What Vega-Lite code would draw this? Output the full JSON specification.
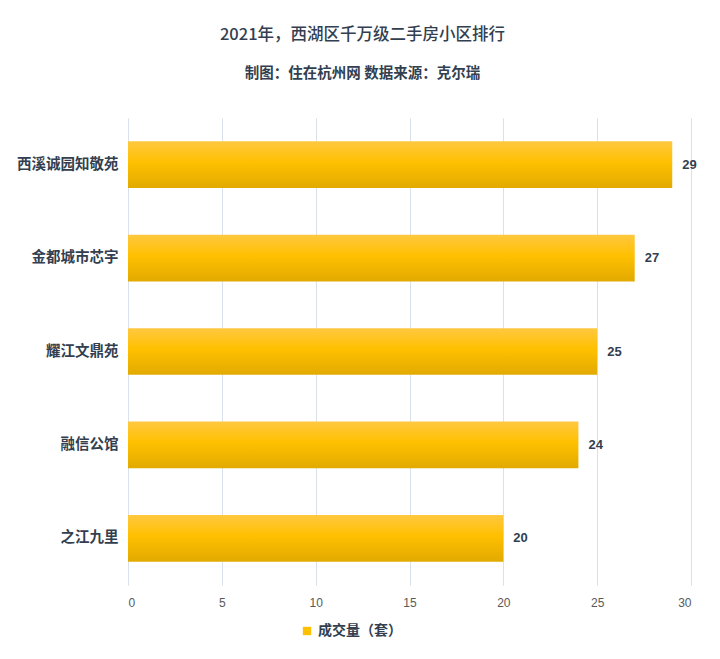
{
  "$schema": "https://vega.github.io/schema/vega-lite/v6.json",
  "width": 563,
  "height": 467,
  "autosize": {"type": "none"},
  "padding": {"left": 128, "top": 118, "right": 29, "bottom": 74},
  "background": "white",
  "title": {
    "text": "2021年，西湖区千万级二手房小区排行",
    "subtitle": "制图：住在杭州网 数据来源：克尔瑞",
    "anchor": "middle",
    "dx": -47,
    "offset": 38,
    "font": "Noto Sans CJK SC",
    "fontSize": 16.5,
    "fontWeight": 500,
    "color": "#333F50",
    "subtitleFont": "Noto Sans CJK SC",
    "subtitleFontSize": 14.5,
    "subtitleFontWeight": "bold",
    "subtitleColor": "#333F50",
    "subtitlePadding": 23
  },
  "data": {
    "values": [
      {"name": "西溪诚园知敬苑", "value": 29},
      {"name": "金都城市芯宇", "value": 27},
      {"name": "耀江文鼎苑", "value": 25},
      {"name": "融信公馆", "value": 24},
      {"name": "之江九里", "value": 20}
    ]
  },
  "encoding": {
    "y": {
      "field": "name",
      "type": "nominal",
      "sort": null,
      "scale": {"paddingInner": 0.5, "paddingOuter": 0.25},
      "axis": {
        "title": null,
        "domain": false,
        "ticks": false,
        "grid": false,
        "labelPadding": 10,
        "labelFont": "Noto Sans CJK SC",
        "labelFontSize": 14.5,
        "labelFontWeight": "bold",
        "labelColor": "#333F50"
      }
    },
    "x": {
      "field": "value",
      "type": "quantitative",
      "scale": {"domain": [0, 30], "nice": false},
      "axis": {
        "title": null,
        "values": [0, 5, 10, 15, 20, 25, 30],
        "domain": false,
        "ticks": false,
        "grid": true,
        "gridColor": "#D9E1EA",
        "gridWidth": 1,
        "labelPadding": 12,
        "labelFont": "Liberation Sans",
        "labelFontSize": 12,
        "labelColor": "#595959"
      }
    }
  },
  "layer": [
    {
      "mark": {
        "type": "bar",
        "fill": {
          "gradient": "linear",
          "x1": 0, "y1": 0, "x2": 0, "y2": 1,
          "stops": [
            {"offset": 0, "color": "#FFC840"},
            {"offset": 0.45, "color": "#FFC000"},
            {"offset": 1, "color": "#E2AA00"}
          ]
        }
      },
      "encoding": {}
    },
    {
      "mark": {"type": "square", "opacity": 0},
      "encoding": {
        "x": {"datum": 0},
        "color": {
          "datum": "成交量（套）",
          "scale": {"range": ["#FFC000"]},
          "legend": {
            "title": null,
            "orient": "none",
            "legendX": 172,
            "legendY": 506,
            "symbolType": "square",
            "symbolSize": 70,
            "symbolOpacity": 1,
            "symbolStrokeWidth": 0,
            "labelFont": "Noto Sans CJK SC",
            "labelFontSize": 14,
            "labelFontWeight": "bold",
            "labelColor": "#333F50"
          }
        }
      }
    },
    {
      "mark": {
        "type": "text",
        "align": "left",
        "dx": 10,
        "font": "Liberation Sans",
        "fontSize": 13,
        "fontWeight": "bold",
        "color": "#333F50"
      },
      "encoding": {"text": {"field": "value", "type": "quantitative"}}
    }
  ],
  "config": {"view": {"stroke": null}}
}
